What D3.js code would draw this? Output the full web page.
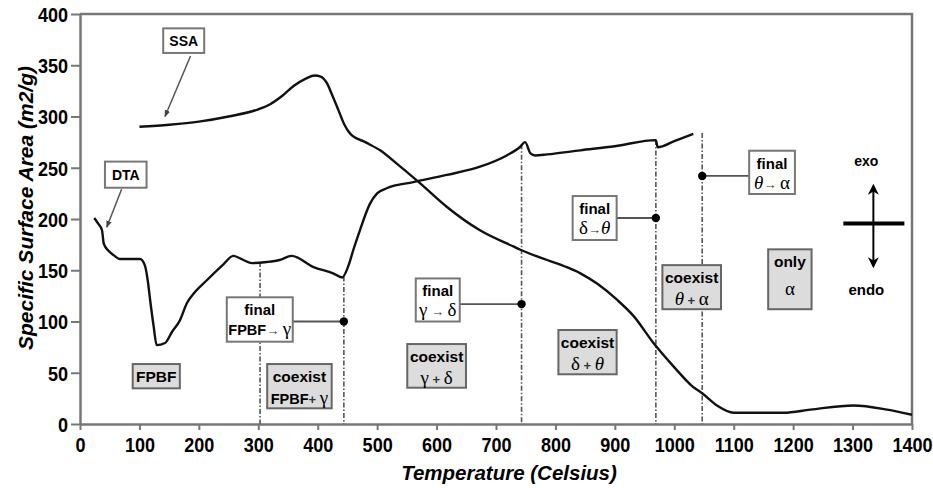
<!DOCTYPE html>
<html>
<head>
<meta charset="utf-8">
<script src="https://cdn.jsdelivr.net/npm/d3@7"></script>
<style>
  html, body { margin: 0; padding: 0; background: #fff; }
  svg { display: block; }
  text { font-family: "Liberation Sans", Arial, sans-serif; }
</style>
</head>
<body>
<svg id="chart" width="933" height="488"></svg>
<script>
// ---------------- data ----------------
const xTicks = [0, 100, 200, 300, 400, 500, 600, 700, 800, 900, 1000, 1100, 1200, 1300, 1400];
const yTicks = [0, 50, 100, 150, 200, 250, 300, 350, 400];

// SSA curve (temperature, m2/g)
const ssaT = [100, 150, 200, 250, 300, 320, 340, 360, 380, 395, 405, 415, 425, 435, 445, 455, 480, 505, 533, 572, 617, 673, 730, 741, 786, 819, 842, 870, 904, 932, 965, 999, 1030, 1047, 1072, 1100, 1184, 1229, 1302, 1358, 1400];
const ssaV = [290, 292, 295, 300, 307, 312, 320, 330, 337, 340, 339, 333, 320, 306, 292, 283, 275, 267, 254, 235, 212, 189, 173, 170, 160, 153, 147, 137, 121, 105, 79, 56, 37, 30, 18, 11, 11, 14, 18, 14, 9];

// DTA curve (temperature, arbitrary scale on same axis)
const dtaT = [24, 30, 37, 40, 48, 56, 67, 101, 109, 114, 118, 124, 129, 143, 155, 168, 180, 191, 213, 240, 258, 275, 289, 314, 336, 356, 393, 426, 441, 452, 460, 471, 488, 500, 516, 561, 617, 673, 718, 740, 749, 758, 766, 786, 842, 900, 969, 972, 1000, 1032];
const dtaV = [201, 196, 189, 176, 169, 165, 161, 161, 155, 140, 121, 95, 77, 79, 90, 101, 118, 127, 140, 155, 164, 160, 157, 158, 160, 164, 153, 147, 143, 155, 170, 189, 215, 225, 230, 236, 243, 251, 262, 270, 275, 264, 262, 263, 267, 271, 277, 270, 276, 283];

// transition temperatures (dash-dot lines), their top value and "final" markers
const transT   = [303, 444, 743, 969, 1047];
const transTop = [158, 144, 273, 277, 284];
const finalT   = [444, 743, 969, 1047];
const finalV   = [100, 117, 201, 242];

// labels
const finalLabels = [
  { line2: [["FPBF", "s"], ["→ ", "a"], ["γ", "g"]] },
  { line2: [["γ", "g"], [" → ", "a"], ["δ", "g"]] },
  { line2: [["δ", "g"], ["→", "a"], ["θ", "gi"]] },
  { line2: [["θ", "gi"], ["→ ", "a"], ["α", "g"]] }
];
// final-box extents in data units [t0, t1, vTop, vBottom]
const finalBoxes = [[247, 358, 123.6, 80.3], [565, 639, 142, 100], [829, 903, 222.4, 179.5], [1126, 1203, 266.6, 224.4]];

const phaseLabels = [
  { l1: [["FPBF", "s"]], l2: null },
  { l1: [["coexist", "s"]], l2: [["FPBF", "s"], ["+ ", "a"], ["γ", "g"]] },
  { l1: [["coexist", "s"]], l2: [["γ", "g"], [" + ", "a"], ["δ", "g"]] },
  { l1: [["coexist", "s"]], l2: [["δ", "g"], [" + ", "a"], ["θ", "gi"]] },
  { l1: [["coexist", "s"]], l2: [["θ", "gi"], [" + ", "a"], ["α", "g"]] },
  { l1: [["only", "s"]], l2: [["α", "g"]] }
];
const phaseBoxes = [[88.7, 168, 58.5, 34.8], [315, 423.5, 58.5, 15.3], [550.7, 649.5, 78, 35.4], [805, 903, 91.7, 48.5], [980, 1078.6, 155, 112], [1158, 1231, 170.4, 112]];

const seriesNames = ["SSA", "DTA"];
const seriesBoxes = [[140, 209, 386, 362], [42, 112, 256, 230.5]];
const seriesArrowFrom = [[186, 359], [70, 229]];
const seriesArrowTo = [[143, 300], [45, 192]];

// ---------------- chart ----------------
const svg = d3.select("#chart");
const x = d3.scaleLinear().domain([0, 1400]).range([80, 912]);
const y = d3.scaleLinear().domain([0, 400]).range([424, 14]);

const frameColor = "#777";

// frame (top, right)
svg.append("path")
  .attr("d", `M${x(0)},${y(400)}H${x(1400)}V${y(0)}`)
  .attr("fill", "none").attr("stroke", frameColor).attr("stroke-width", 2.5);

// axes
const yAxis = svg.append("g").attr("transform", `translate(${x(0)},0)`)
  .call(d3.axisLeft(y).tickValues(yTicks).tickFormat(d3.format("d")).tickSize(9).tickPadding(3).tickSizeOuter(0));
const xAxis = svg.append("g").attr("transform", `translate(0,${y(0)})`)
  .call(d3.axisBottom(x).tickValues(xTicks).tickFormat(d3.format("d")).tickSize(6).tickPadding(10).tickSizeOuter(0));
[yAxis, xAxis].forEach(g => {
  g.select(".domain").attr("stroke", frameColor).attr("stroke-width", 2.5);
  g.selectAll(".tick line").attr("stroke", frameColor).attr("stroke-width", 2);
  g.selectAll(".tick text").attr("fill", "#000").attr("font-size", 20.5).attr("font-weight", "bold")
    .attr("font-family", "Liberation Sans, Arial, sans-serif")
    .attr("transform", "scale(0.88,1)");
});
yAxis.selectAll(".tick text").attr("x", -12 / 0.88).attr("dy", "0.36em");
xAxis.selectAll(".tick text").attr("dy", "0.74em").attr("y", 13);

// axis titles
svg.append("text")
  .attr("x", 509).attr("y", 480).attr("text-anchor", "middle")
  .attr("font-size", 20.5).attr("font-weight", "bold").attr("font-style", "italic")
  .text("Temperature (Celsius)");
svg.append("text")
  .attr("transform", "translate(33,208) rotate(-90)").attr("text-anchor", "middle")
  .attr("font-size", 21).attr("font-weight", "bold").attr("font-style", "italic")
  .text("Specific Surface Area (m2/g)");

// transition dash-dot lines
svg.append("g").selectAll("line").data(transT).join("line")
  .attr("x1", d => x(d)).attr("x2", d => x(d))
  .attr("y1", (d, i) => y(transTop[i])).attr("y2", y(0))
  .attr("stroke", "#555").attr("stroke-width", 1.6)
  .attr("stroke-dasharray", "5,2,1.5,2");

// curves
const line = d3.line().x(d => x(d[0])).y(d => y(d[1])).curve(d3.curveMonotoneX);
svg.append("path").datum(ssaT.map((t, i) => [t, ssaV[i]]))
  .attr("d", line).attr("fill", "none").attr("stroke", "#111").attr("stroke-width", 2.4)
  .attr("stroke-linejoin", "round");
svg.append("path").datum(dtaT.map((t, i) => [t, dtaV[i]]))
  .attr("d", line).attr("fill", "none").attr("stroke", "#111").attr("stroke-width", 2.4)
  .attr("stroke-linejoin", "round");

// helper: write a line of mixed-font text
function writeRuns(textSel, runs) {
  runs.forEach(([s, kind]) => {
    const t = textSel.append("tspan").text(s);
    if (kind === "g" || kind === "gi") {
      t.attr("font-family", "Liberation Serif, Times New Roman, serif").attr("font-size", 19).attr("font-weight", "normal");
      if (kind === "gi") t.attr("font-style", "italic");
    } else if (kind === "a") {
      t.attr("font-size", 13).attr("font-weight", "bold").attr("fill", "#333");
    }
  });
}

// "final" boxes with connectors and dots
const fg = svg.append("g");
finalBoxes.forEach((b, i) => {
  const x0 = x(b[0]), x1 = x(b[1]), y0 = y(b[2]), y1 = y(b[3]);
  const cy = y(finalV[i]);
  const fromX = (x(finalT[i]) > x1) ? x1 : x0;
  fg.append("line").attr("x1", fromX).attr("x2", x(finalT[i])).attr("y1", cy).attr("y2", cy)
    .attr("stroke", "#555").attr("stroke-width", 1.8);
  fg.append("rect").attr("x", x0).attr("y", y0).attr("width", x1 - x0).attr("height", y1 - y0)
    .attr("fill", "#fff").attr("stroke", "#777").attr("stroke-width", 2);
  const cx = (x0 + x1) / 2;
  fg.append("text").attr("x", cx).attr("y", y0 + 18).attr("text-anchor", "middle")
    .attr("font-size", 15).attr("font-weight", "bold").text("final");
  const t2 = fg.append("text").attr("x", cx).attr("y", y0 + 38).attr("text-anchor", "middle")
    .attr("font-size", 14.5).attr("font-weight", "bold");
  writeRuns(t2, finalLabels[i].line2);
  fg.append("circle").attr("cx", x(finalT[i])).attr("cy", cy).attr("r", 4.2).attr("fill", "#000");
});

// phase boxes (grey)
const pg = svg.append("g");
phaseBoxes.forEach((b, i) => {
  const x0 = x(b[0]), x1 = x(b[1]), y0 = y(b[2]), y1 = y(b[3]);
  pg.append("rect").attr("x", x0).attr("y", y0).attr("width", x1 - x0).attr("height", y1 - y0)
    .attr("fill", "#dcdcdc").attr("stroke", "#666").attr("stroke-width", 2);
  const cx = (x0 + x1) / 2;
  const lab = phaseLabels[i];
  if (!lab.l2) {
    const t = pg.append("text").attr("x", cx).attr("y", (y0 + y1) / 2 + 5.5).attr("text-anchor", "middle")
      .attr("font-size", 15.5).attr("font-weight", "bold");
    writeRuns(t, lab.l1);
  } else {
    const gap = (y1 - y0) > 55 ? 28 : 22;
    const t1 = pg.append("text").attr("x", cx).attr("y", y0 + 18).attr("text-anchor", "middle")
      .attr("font-size", 15.5).attr("font-weight", "bold");
    writeRuns(t1, lab.l1);
    const t2 = pg.append("text").attr("x", cx).attr("y", y0 + 18 + gap).attr("text-anchor", "middle")
      .attr("font-size", 14.5).attr("font-weight", "bold");
    writeRuns(t2, lab.l2);
  }
});

// series label boxes with arrows
svg.append("defs").append("marker")
  .attr("id", "ah").attr("viewBox", "0 0 10 10").attr("refX", 9).attr("refY", 5)
  .attr("markerWidth", 7).attr("markerHeight", 7).attr("orient", "auto")
  .attr("markerUnits", "userSpaceOnUse")
  .append("path").attr("d", "M0,1 L10,5 L0,9 Z").attr("fill", "#444");
seriesNames.forEach((name, i) => {
  const b = seriesBoxes[i];
  const x0 = x(b[0]), x1 = x(b[1]), y0 = y(b[2]), y1 = y(b[3]);
  svg.append("line")
    .attr("x1", x(seriesArrowFrom[i][0])).attr("y1", y(seriesArrowFrom[i][1]))
    .attr("x2", x(seriesArrowTo[i][0])).attr("y2", y(seriesArrowTo[i][1]))
    .attr("stroke", "#555").attr("stroke-width", 1.5).attr("marker-end", "url(#ah)");
  svg.append("rect").attr("x", x0).attr("y", y0).attr("width", x1 - x0).attr("height", y1 - y0)
    .attr("fill", "#fff").attr("stroke", "#777").attr("stroke-width", 2);
  svg.append("text").attr("x", (x0 + x1) / 2).attr("y", (y0 + y1) / 2 + 5)
    .attr("text-anchor", "middle").attr("font-size", 14).attr("font-weight", "bold").text(name);
});

// exo / endo indicator
const ind = svg.append("g");
const indT = 1335;
ind.append("text").attr("x", x(indT) - 7).attr("y", 166).attr("text-anchor", "middle")
  .attr("font-size", 14).attr("font-weight", "bold").text("exo");
ind.append("text").attr("x", x(indT) - 7).attr("y", 295).attr("text-anchor", "middle")
  .attr("font-size", 15).attr("font-weight", "bold").text("endo");
ind.append("line").attr("x1", x(indT) - 30).attr("x2", x(indT) + 31).attr("y1", 223.5).attr("y2", 223.5)
  .attr("stroke", "#000").attr("stroke-width", 4);
svg.select("defs").append("marker")
  .attr("id", "ah2").attr("viewBox", "0 0 10 10").attr("refX", 8).attr("refY", 5)
  .attr("markerWidth", 11).attr("markerHeight", 11).attr("orient", "auto")
  .attr("markerUnits", "userSpaceOnUse")
  .append("path").attr("d", "M0,0 L10,5 L0,10 L3,5 Z").attr("fill", "#000");
ind.append("line").attr("x1", x(indT)).attr("x2", x(indT)).attr("y1", 223).attr("y2", 186)
  .attr("stroke", "#000").attr("stroke-width", 2).attr("marker-end", "url(#ah2)");
ind.append("line").attr("x1", x(indT)).attr("x2", x(indT)).attr("y1", 224).attr("y2", 266)
  .attr("stroke", "#000").attr("stroke-width", 2).attr("marker-end", "url(#ah2)");
</script>
</body>
</html>
